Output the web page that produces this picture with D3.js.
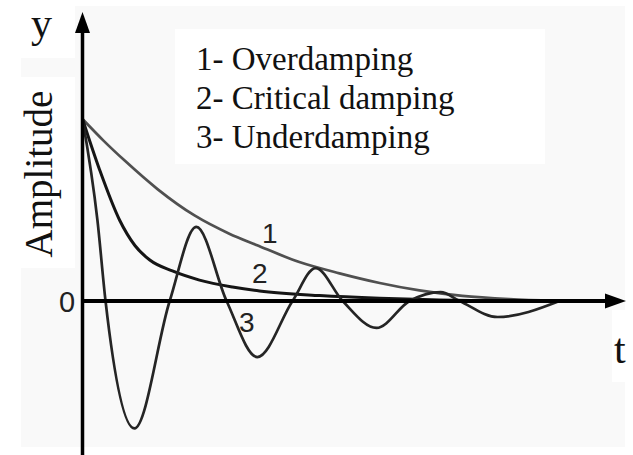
<!DOCTYPE html>
<html><head><meta charset="utf-8">
<script src="https://cdn.jsdelivr.net/npm/d3@7"></script>
<style>html,body{margin:0;padding:0;background:#fff;} svg{display:block;}</style>
</head><body>
<script>
// Normalised displacement against time for the three damping regimes
const overT  = [0, 0.47, 0.94, 1.66, 2.48, 3.25, 3.85, 4.80, 5.69, 6.58, 7.46, 8.41, 9.45, 10.49];
const overY  = [1, 0.88, 0.77, 0.615, 0.47, 0.37, 0.308, 0.214, 0.152, 0.099, 0.058, 0.028, 0.01, 0];

const critT  = [0, 0.38, 0.82, 1.16, 1.49, 1.99, 2.59, 3.32, 3.92, 5.25, 6.58, 7.90, 9.23];
const critY  = [1, 0.72, 0.445, 0.305, 0.225, 0.165, 0.115, 0.077, 0.055, 0.03, 0.015, 0.006, 0];

const underT = [0, 0.33, 0.51, 1.15, 1.93, 2.52, 3.19, 3.87, 4.65, 5.16, 5.76, 6.51, 7.24, 7.93, 8.35, 9.19, 10.56];
const underY = [1, 0.445, 0, -0.70, 0, 0.407, 0, -0.308, 0, 0.181, 0, -0.148, 0, 0.049, 0, -0.088, 0];

const legendLines = ["1- Overdamping", "2- Critical damping", "3- Underdamping"];
const curveNames  = ["1", "2", "3"];

const W = 633, H = 455;
const svg = d3.select("body").append("svg").attr("width", W).attr("height", H);

const x = d3.scaleLinear().domain([0, 12]).range([82.5, 624.5]);
const y = d3.scaleLinear().domain([0, 1]).range([301, 119]);

// panel backgrounds
const panel = "#f9f9f9";
svg.append("rect").attr("x", 75).attr("y", 6).attr("width", 550).attr("height", 441).attr("fill", panel);
svg.append("rect").attr("x", 21).attr("y", 58).attr("width", 54).attr("height", 19).attr("fill", panel);
svg.append("rect").attr("x", 21).attr("y", 268).attr("width", 54).attr("height", 179).attr("fill", panel);
svg.append("rect").attr("x", 175).attr("y", 29).attr("width", 370).attr("height", 135).attr("fill", "#fff");
svg.append("rect").attr("x", 612).attr("y", 310).attr("width", 21).attr("height", 72).attr("fill", "#fff");

// curves
const line = d3.line().x(d => x(d[0])).y(d => y(d[1])).curve(d3.curveMonotoneX);
const series = [
  {t: overT, v: overY, color: "#505050", w: 2.7},
  {t: critT, v: critY, color: "#151515", w: 3},
  {t: underT, v: underY, color: "#252525", w: 2.7}
];
series.forEach(s => {
  svg.append("path")
    .datum(s.t.map((t, i) => [t, s.v[i]]))
    .attr("d", line)
    .attr("fill", "none")
    .attr("stroke", s.color)
    .attr("stroke-width", s.w)
    .attr("stroke-linejoin", "round");
});

// axes with arrow heads
const x0 = x(0), y0 = y(0);
svg.append("line").attr("x1", x0).attr("x2", x0).attr("y1", H).attr("y2", 30)
  .attr("stroke", "#000").attr("stroke-width", 3.5);
svg.append("path").attr("d", `M${x0},12 L${x0 + 7.5},33 L${x0 - 7.5},33 Z`).attr("fill", "#000");
svg.append("line").attr("x1", x0).attr("x2", 608).attr("y1", y0).attr("y2", y0)
  .attr("stroke", "#000").attr("stroke-width", 4);
svg.append("path").attr("d", `M626,${y0} L605,${y0 - 7.5} L605,${y0 + 7.5} Z`).attr("fill", "#000");

// labels
const serif = "'Liberation Serif', 'Times New Roman', serif";
const sans = "'Liberation Sans', Arial, sans-serif";

svg.append("text").attr("x", 31).attr("y", 37).attr("font-family", serif).attr("font-size", 42)
  .attr("fill", "#111").text("y");
svg.append("text").attr("transform", "translate(52,174) rotate(-90)").attr("text-anchor", "middle")
  .attr("font-family", serif).attr("font-size", 39).attr("fill", "#111").text("Amplitude");
svg.append("text").attr("x", 614).attr("y", 363).attr("font-family", serif).attr("font-size", 42)
  .attr("fill", "#111").text("t");
svg.append("text").attr("x", 59).attr("y", 312).attr("font-family", sans).attr("font-size", 29)
  .attr("fill", "#222").text("0");

svg.selectAll(".legend").data(legendLines).enter().append("text")
  .attr("x", 196).attr("y", (d, i) => 70 + i * 39)
  .attr("font-family", serif).attr("font-size", 33).attr("fill", "#111").text(d => d);

const namePos = [[262, 243], [252, 283], [239, 332]];
svg.selectAll(".cname").data(curveNames).enter().append("text")
  .attr("x", (d, i) => namePos[i][0]).attr("y", (d, i) => namePos[i][1])
  .attr("font-family", sans).attr("font-size", 28).attr("fill", "#222").text(d => d);
</script>
</body></html>
